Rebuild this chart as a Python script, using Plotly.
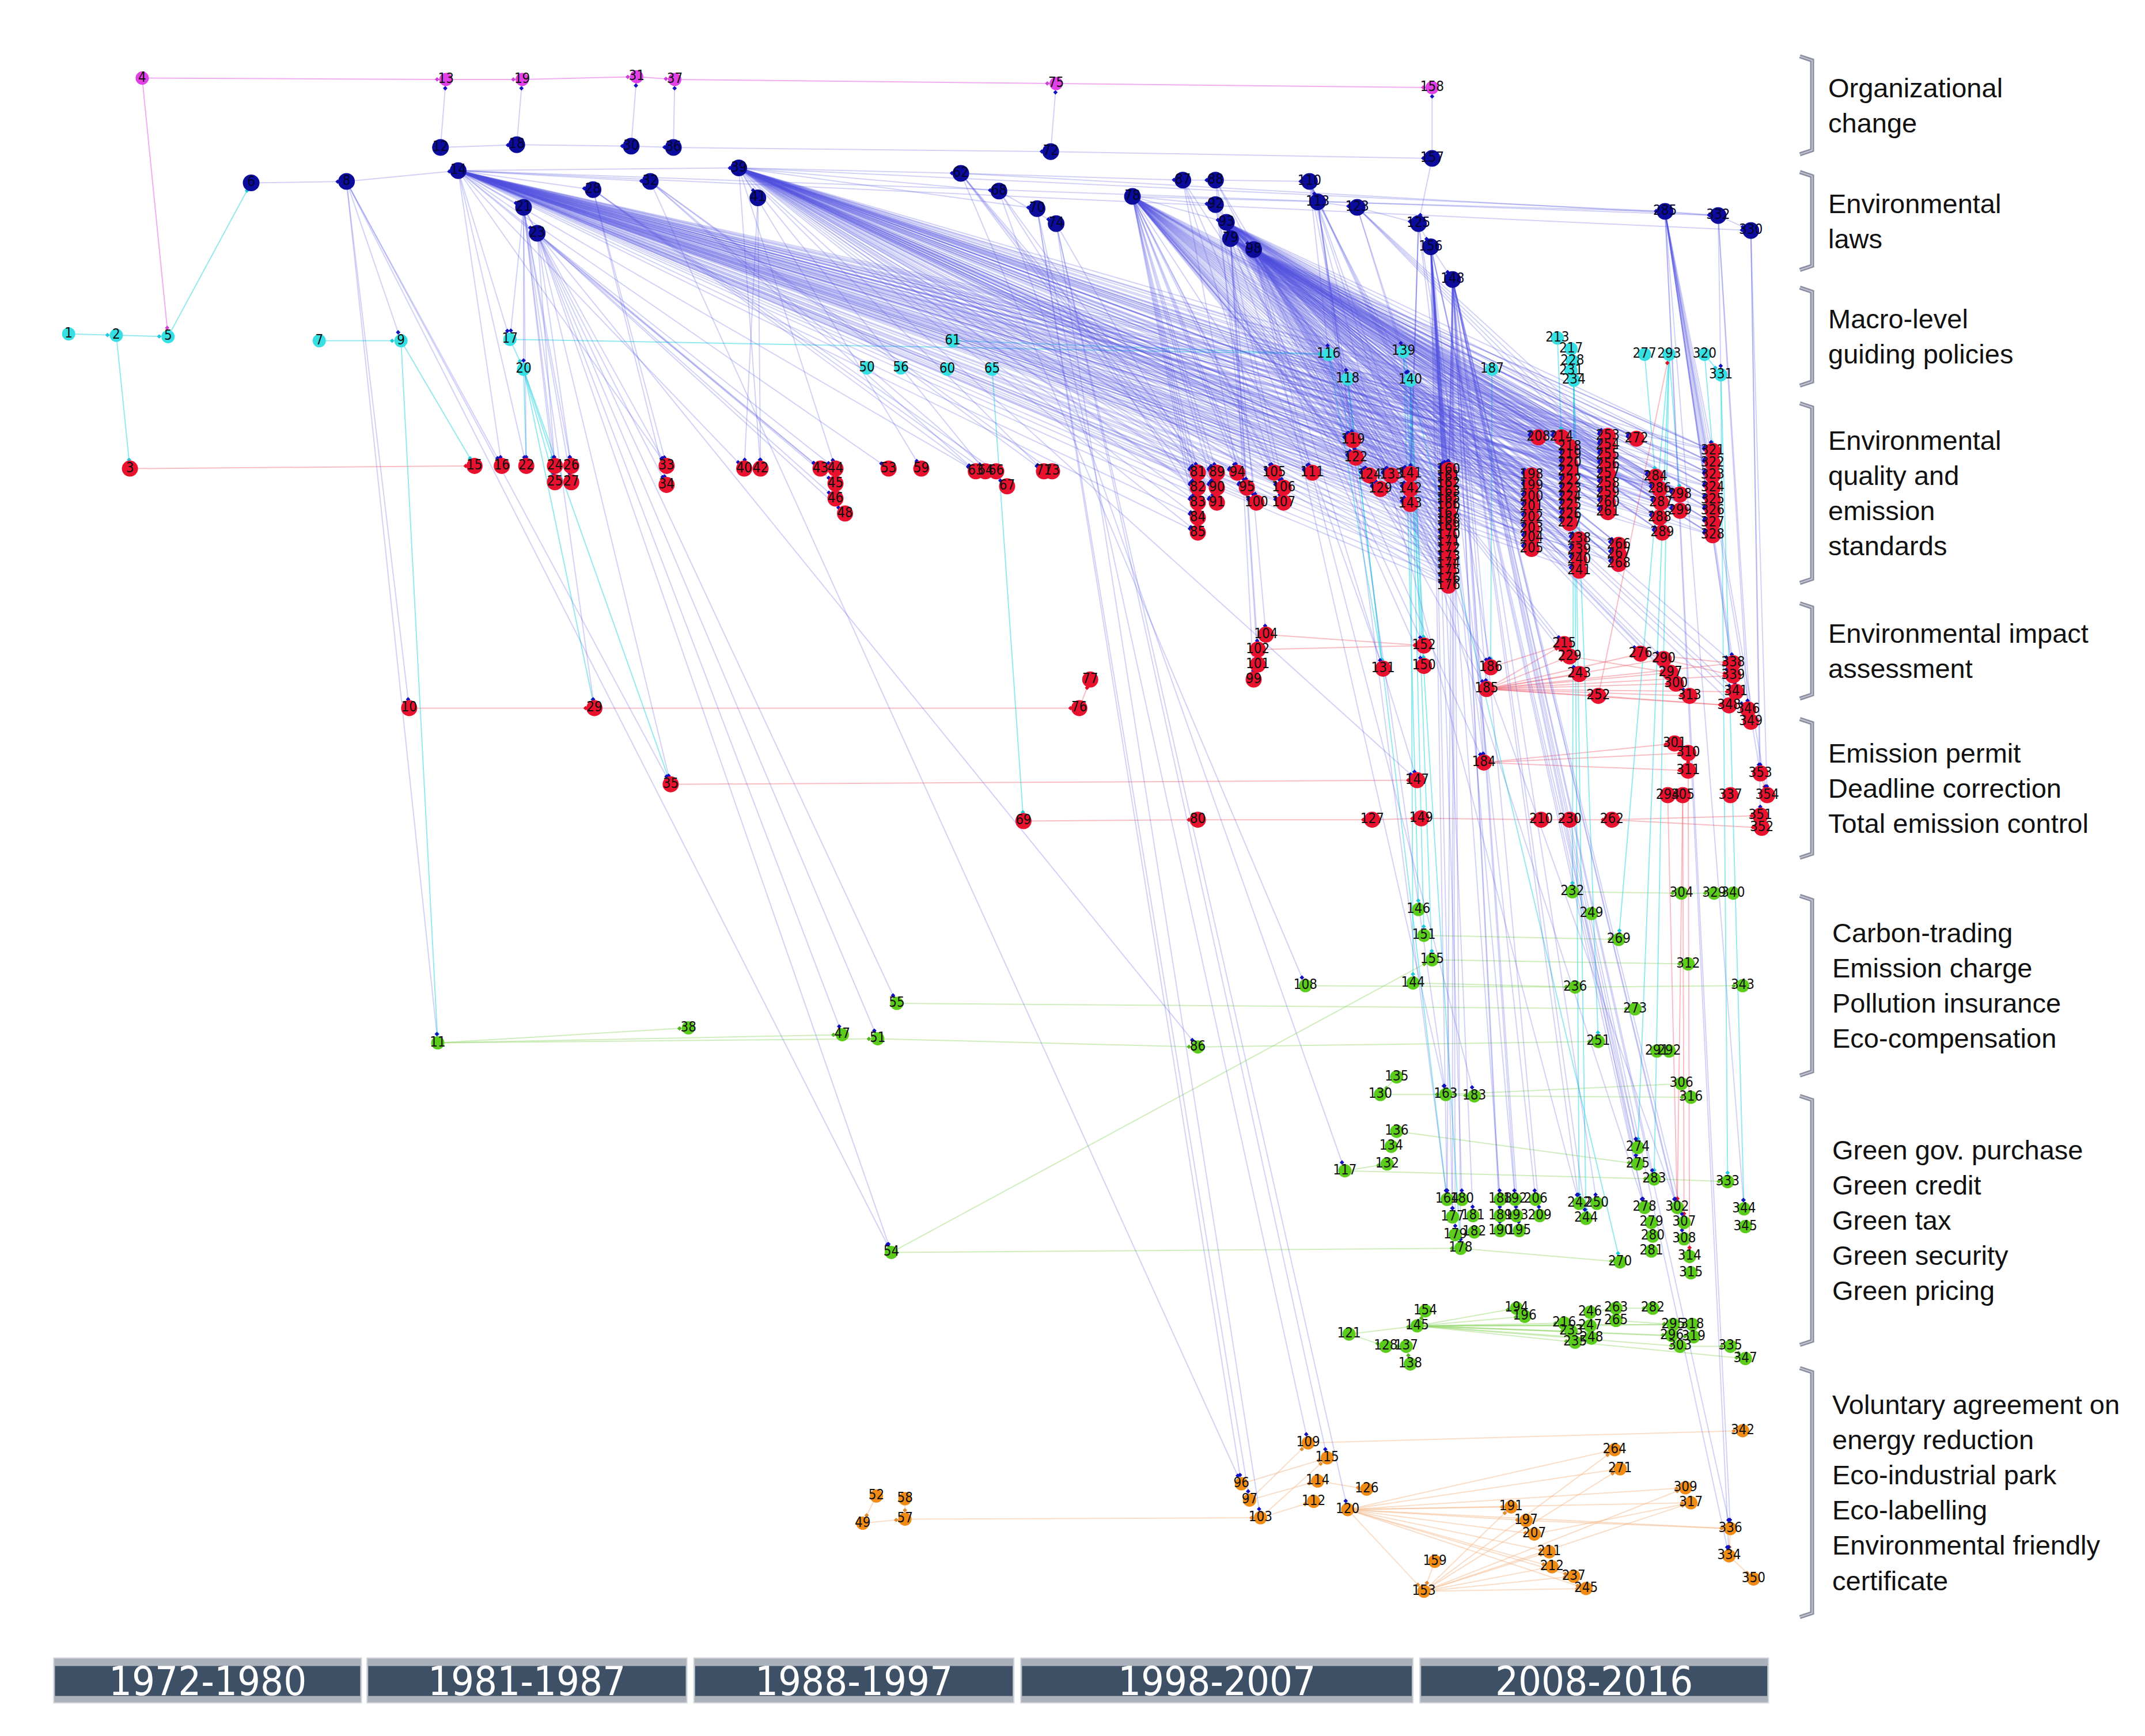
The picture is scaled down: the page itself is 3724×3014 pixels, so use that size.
import math
import plotly.graph_objects as go

# Policy network 1972-2016, node positions
# (x: 0-1568 across, y: 0-1269 downwards)

org_change = [("4", 101, 54), ("13", 324, 55), ("19", 380, 55), ("31", 464, 53),
              ("37", 492, 55), ("75", 772, 58), ("158", 1048, 61)]

env_laws = [("6", 181, 131), ("8", 251, 130), ("12", 320, 105), ("14", 333, 122),
            ("18", 376, 103), ("21", 381, 149), ("23", 391, 168), ("28", 432, 136),
            ("30", 460, 104), ("32", 474, 130), ("36", 491, 105), ("39", 539, 120),
            ("41", 553, 142), ("62", 702, 124), ("68", 730, 137), ("70", 758, 150),
            ("72", 768, 108), ("74", 772, 161), ("78", 828, 141), ("87", 865, 129),
            ("88", 889, 129), ("92", 889, 147), ("93", 897, 160), ("79", 900, 172),
            ("98", 917, 180), ("110", 958, 130), ("113", 964, 145), ("123", 993, 149),
            ("125", 1038, 161), ("157", 1048, 113), ("156", 1047, 178), ("148", 1063, 202),
            ("285", 1219, 152), ("332", 1258, 155), ("330", 1282, 166)]

macro_policies = [("1", 47, 242), ("2", 82, 243), ("5", 120, 244), ("7", 231, 247),
                  ("9", 291, 247), ("17", 371, 246), ("20", 381, 268), ("61", 696, 247),
                  ("50", 633, 267), ("56", 658, 267), ("60", 692, 268), ("65", 725, 268),
                  ("116", 972, 257), ("118", 986, 275), ("139", 1027, 255), ("140", 1032, 276),
                  ("187", 1092, 268), ("213", 1140, 245), ("217", 1150, 253), ("228", 1151, 262),
                  ("231", 1150, 269), ("234", 1152, 276), ("277", 1204, 257), ("293", 1222, 257),
                  ("320", 1248, 257), ("331", 1260, 272)]

quality_standards = [
    ("3", 92, 341), ("15", 345, 339), ("16", 365, 339), ("22", 383, 339), ("24", 404, 339),
    ("26", 416, 339), ("25", 404, 351), ("27", 416, 351), ("33", 486, 339), ("34", 486, 353),
    ("40", 543, 341), ("42", 555, 341), ("43", 599, 341), ("44", 610, 341), ("45", 610, 352),
    ("46", 610, 363), ("48", 617, 374), ("53", 649, 341), ("59", 673, 341), ("63", 713, 343),
    ("64", 720, 343), ("66", 728, 343), ("67", 736, 354), ("71", 763, 343), ("73", 769, 343),
    ("81", 876, 344), ("82", 876, 355), ("83", 876, 366), ("84", 876, 377), ("85", 876, 388),
    ("89", 890, 344), ("90", 890, 355), ("91", 890, 366), ("94", 905, 344), ("95", 912, 355),
    ("100", 919, 366), ("105", 932, 344), ("106", 939, 355), ("107", 939, 366), ("111", 960, 344),
    ("119", 990, 320), ("122", 992, 333), ("124", 1002, 346), ("133", 1018, 346), ("129", 1010, 356),
    ("141", 1032, 345), ("142", 1032, 356), ("143", 1032, 367),
    ("160", 1060, 342), ("161", 1060, 347), ("162", 1060, 352), ("163b", 1060, 358),
    ("165", 1060, 363), ("166", 1060, 368), ("167", 1060, 374), ("168", 1060, 379),
    ("169", 1060, 384), ("170", 1060, 390), ("171", 1060, 395), ("172", 1060, 400),
    ("173", 1060, 406), ("174", 1060, 411), ("175", 1060, 416), ("176", 1060, 422),
    ("176b", 1060, 427),
    ("198", 1121, 346), ("199", 1121, 354), ("200", 1121, 362), ("201", 1121, 369),
    ("202", 1121, 377), ("203", 1121, 385), ("204", 1121, 392), ("205", 1121, 400),
    ("208", 1126, 318), ("214", 1143, 318),
    ("218", 1149, 325), ("219", 1149, 331), ("220", 1149, 337), ("221", 1149, 343),
    ("222", 1149, 350), ("223", 1149, 356), ("224", 1149, 362), ("225", 1149, 368),
    ("226", 1149, 375), ("227", 1149, 381),
    ("238", 1156, 393), ("239", 1156, 401), ("240", 1156, 408), ("241", 1156, 416),
    ("253", 1177, 317), ("254", 1177, 324), ("255", 1177, 331), ("256", 1177, 338),
    ("257", 1177, 345), ("258", 1177, 352), ("259", 1177, 359), ("260", 1177, 366),
    ("261", 1177, 373),
    ("266", 1185, 397), ("267", 1185, 404), ("268", 1185, 411),
    ("272", 1198, 319), ("284", 1212, 347), ("286", 1215, 356), ("287", 1216, 366),
    ("288", 1215, 377), ("289", 1217, 388), ("298", 1230, 360), ("299", 1230, 372),
    ("321", 1254, 328), ("322", 1254, 337), ("323", 1254, 346), ("324", 1254, 355),
    ("325", 1254, 364), ("326", 1254, 372), ("327", 1254, 381), ("328", 1254, 390),
]

impact_assessment = [
    ("104", 926, 463), ("102", 920, 474), ("101", 920, 485), ("99", 917, 496),
    ("152", 1042, 471), ("131", 1012, 488), ("150", 1042, 486), ("186", 1091, 487),
    ("185", 1088, 503), ("215", 1145, 470), ("229", 1149, 479), ("243", 1156, 492),
    ("252", 1170, 508), ("276", 1201, 477), ("290", 1218, 481), ("297", 1223, 491),
    ("300", 1227, 499), ("313", 1237, 508), ("338", 1269, 484), ("339", 1269, 493),
    ("341", 1271, 505), ("348", 1266, 515), ("346", 1280, 518), ("349", 1282, 527),
    ("10", 297, 517), ("29", 433, 517), ("77", 797, 496), ("76", 789, 517),
]

emission_permit = [
    ("35", 489, 573), ("147", 1037, 570), ("184", 1086, 557), ("301", 1226, 543),
    ("310", 1236, 550), ("311", 1236, 563), ("294", 1221, 581), ("305", 1232, 581),
    ("337", 1267, 581), ("353", 1289, 565), ("354", 1294, 581), ("351", 1289, 596),
    ("352", 1290, 605), ("69", 748, 600), ("80", 876, 599), ("127", 1004, 599),
    ("149", 1040, 598), ("210", 1128, 599), ("230", 1149, 599), ("262", 1180, 599),
]

market_green = [
    ("11", 318, 763), ("38", 502, 752), ("47", 615, 757), ("51", 641, 760), ("55", 655, 734),
    ("86", 876, 766), ("54", 651, 917),
    ("232", 1151, 652), ("304", 1231, 653), ("329", 1255, 653), ("340", 1269, 653),
    ("146", 1038, 665), ("249", 1165, 668), ("151", 1042, 684), ("269", 1185, 687),
    ("155", 1048, 702), ("312", 1236, 705), ("108", 955, 721), ("144", 1034, 719),
    ("236", 1153, 722), ("343", 1276, 721), ("273", 1197, 738), ("251", 1170, 762),
    ("291", 1213, 769), ("292", 1222, 769), ("306", 1231, 793), ("316", 1238, 803),
    ("135", 1022, 788), ("130", 1010, 801), ("163", 1058, 801), ("183", 1079, 802),
    ("136", 1022, 828), ("134", 1018, 839), ("132", 1015, 852), ("117", 984, 857),
    ("274", 1199, 840), ("275", 1199, 852), ("283", 1211, 863), ("333", 1265, 865),
    ("164", 1059, 878), ("180", 1070, 878), ("188", 1098, 878), ("192", 1109, 878),
    ("206", 1124, 878), ("242", 1156, 881), ("250", 1169, 881), ("278", 1204, 884),
    ("302", 1228, 884), ("344", 1277, 885),
    ("177", 1063, 891), ("181", 1078, 890), ("189", 1098, 890), ("193", 1110, 890),
    ("209", 1127, 890), ("244", 1161, 892), ("279", 1209, 895), ("307", 1233, 895),
    ("345", 1278, 898),
    ("179", 1065, 904), ("182", 1079, 902), ("190", 1098, 901), ("195", 1112, 901),
    ("280", 1210, 905), ("308", 1233, 907),
    ("178", 1069, 914), ("281", 1209, 916), ("314", 1237, 920), ("270", 1186, 924),
    ("315", 1238, 932),
    ("154", 1043, 960), ("194", 1110, 958), ("196", 1116, 964), ("246", 1164, 961),
    ("263", 1183, 958), ("282", 1210, 958),
    ("145", 1037, 971), ("121", 987, 977), ("216", 1145, 969), ("233", 1150, 975),
    ("247", 1164, 971), ("265", 1183, 967), ("295", 1225, 970), ("318", 1239, 970),
    ("235", 1153, 983), ("248", 1165, 980), ("296", 1224, 978), ("319", 1240, 979),
    ("303", 1230, 986), ("335", 1267, 986),
    ("128", 1014, 986), ("137", 1029, 986), ("138", 1032, 999), ("347", 1278, 995),
]

voluntary = [
    ("109", 957, 1057), ("115", 971, 1068), ("342", 1276, 1048), ("264", 1182, 1062),
    ("271", 1186, 1076), ("96", 908, 1087), ("114", 964, 1085), ("126", 1000, 1091),
    ("97", 914, 1099), ("112", 961, 1100), ("309", 1234, 1090), ("317", 1238, 1101),
    ("103", 922, 1112), ("120", 986, 1106), ("191", 1106, 1104), ("197", 1117, 1114),
    ("207", 1123, 1124), ("336", 1267, 1120), ("211", 1134, 1137), ("334", 1266, 1140),
    ("159", 1050, 1144), ("212", 1136, 1148), ("237", 1152, 1155), ("350", 1284, 1157),
    ("245", 1161, 1164), ("153", 1042, 1166), ("52", 640, 1096), ("58", 661, 1098),
    ("49", 630, 1116), ("57", 661, 1113),
]

# groups of standards that the law hubs fan out to
quality_early = ["15", "16", "22", "24", "26", "25", "27", "33", "34", "40", "42", "43",
                 "44", "45", "46", "48", "53", "59", "63", "64", "66", "67", "71", "73"]
quality_1998 = ["81", "82", "83", "84", "85", "89", "90", "91", "94", "95", "100", "105",
                "106", "107", "111", "119", "122", "124", "129", "133", "141", "142", "143"]
quality_column = ["160", "161", "162", "163b", "165", "166", "167", "168", "169", "170",
                  "171", "172", "173", "174", "175", "176", "176b"]
quality_2008 = ["198", "199", "200", "201", "202", "203", "204", "205", "208", "214",
                "218", "219", "220", "221", "222", "223", "224", "225", "226", "227",
                "238", "239", "240", "241", "253", "254", "255", "256", "257", "258",
                "259", "260", "261", "266", "267", "268", "272", "284", "286", "287",
                "288", "289", "298", "299", "321", "322", "323", "324", "325", "326",
                "327", "328"]
impact_late = ["152", "150", "186", "185", "215", "229", "243", "276", "290", "297",
               "300", "313", "338", "339", "341", "346", "349"]

law_fans = {
    "6": ["8"],
    "8": ["14", "9", "10", "11", "16", "35", "54"],
    "12": ["18", "13"],
    "18": ["30", "19"],
    "30": ["36", "31"],
    "36": ["72", "37"],
    "72": ["157", "75"],
    "157": ["158", "125"],
    "14": ["39", "21", "23", "28", "32", "16", "17", "22", "33", "40", "43", "53", "63",
           "330", "332"] + quality_1998 + quality_column + quality_2008,
    "21": ["17", "20", "22", "24", "25", "26", "27", "29", "33", "34"],
    "23": ["24", "26", "43", "44", "45", "46", "48", "51", "54", "55", "86", "35", "47"],
    "28": ["33", "34", "63", "64", "66"],
    "32": ["63", "67", "71", "73", "96"],
    "39": ["41", "62", "68", "70", "285", "42", "44", "59", "64", "71", "147"]
          + quality_1998 + quality_column + quality_2008,
    "41": ["40", "42"],
    "62": ["87", "81", "82", "89", "90", "108", "332"],
    "68": ["74", "83", "90", "117"],
    "70": ["96", "97", "109"],
    "74": ["103", "115", "120", "91"],
    "78": ["92", "93", "285"] + quality_1998 + quality_column + quality_2008[:30],
    "87": ["88", "94", "105", "111", "119"],
    "88": ["110", "95", "106", "124", "133"],
    "92": ["100", "107", "129", "141"],
    "93": ["98", "79"] + quality_column + quality_2008[10:] + impact_late,
    "79": ["99", "101", "102", "104", "131"] + quality_2008[20:],
    "98": quality_column + quality_2008 + ["184", "147", "163", "183"],
    "110": ["113", "116", "118", "160", "161", "162", "242", "278", "302"],
    "113": ["123", "119", "122", "140", "163", "164"],
    "123": ["125", "139", "140", "253", "254", "255", "256"],
    "125": ["156", "141", "142", "143", "184", "186"],
    "156": ["148", "164", "180", "188", "192", "206", "177", "181", "274", "275", "278"]
           + quality_column,
    "148": ["160", "165", "170", "175", "164", "177", "179", "178", "189", "190", "193",
            "195", "209", "242", "244", "250", "274", "275", "278", "302", "334", "336",
            "184", "185", "283", "307", "308"],
    "285": ["332", "321", "322", "323", "324", "325", "326", "327", "328", "338", "339",
            "341", "353", "354", "336", "334", "344"],
    "332": ["330", "331", "346", "349"],
    "330": ["353", "354", "351"],
}

org_edges = [("4", "13"), ("13", "19"), ("19", "31"), ("31", "37"), ("37", "75"),
             ("75", "158"), ("4", "5")]

macro_edges = [("1", "2"), ("2", "5"), ("2", "3"), ("5", "6"), ("7", "9"), ("9", "11"),
               ("9", "15"), ("17", "116"), ("17", "20"), ("20", "22"), ("20", "24"),
               ("20", "25"), ("20", "29"), ("20", "35"), ("61", "116"), ("65", "69"),
               ("116", "119"), ("118", "122"), ("139", "140"), ("140", "141"), ("140", "150"),
               ("140", "152"), ("139", "146"), ("140", "151"), ("140", "155"), ("140", "144"),
               ("118", "131"), ("116", "131"), ("187", "186"), ("234", "232"), ("234", "242"),
               ("234", "244"), ("293", "298"), ("320", "331"), ("331", "344"), ("331", "333"),
               ("277", "284"), ("213", "214"), ("293", "274"), ("293", "283"), ("320", "321"),
               ("139", "178"), ("140", "270"), ("118", "164"), ("234", "251"), ("293", "269")]

standard_edges = [("3", "15"), ("10", "29"), ("29", "76"), ("76", "77"), ("35", "147"),
                  ("69", "80"), ("80", "127"), ("127", "149"), ("149", "210"), ("210", "230"),
                  ("230", "262"), ("262", "351"), ("262", "352"), ("104", "152"), ("102", "152"),
                  ("185", "215"), ("185", "229"), ("185", "243"), ("185", "252"), ("185", "276"),
                  ("185", "290"), ("185", "297"), ("185", "300"), ("185", "313"), ("185", "338"),
                  ("185", "339"), ("185", "341"), ("185", "348"), ("186", "215"), ("276", "338"),
                  ("290", "339"), ("252", "293"), ("184", "301"), ("184", "310"), ("184", "311"),
                  ("301", "310"), ("310", "311"), ("294", "302"), ("305", "302"), ("305", "307"),
                  ("353", "354"), ("252", "348"), ("229", "297"), ("311", "314")]

market_edges = [("11", "38"), ("11", "47"), ("11", "51"), ("51", "86"), ("86", "251"),
                ("55", "273"), ("54", "178"), ("54", "155"), ("130", "163"), ("163", "183"),
                ("183", "316"), ("117", "132"), ("117", "283"), ("136", "275"), ("144", "236"),
                ("236", "343"), ("151", "269"), ("155", "312"), ("232", "304"), ("304", "329"),
                ("329", "340"), ("121", "145"), ("145", "194"), ("145", "196"), ("145", "216"),
                ("145", "233"), ("145", "235"), ("145", "247"), ("145", "248"), ("145", "295"),
                ("145", "296"), ("145", "303"), ("145", "318"), ("145", "319"), ("121", "128"),
                ("128", "137"), ("137", "138"), ("154", "145"), ("283", "333"), ("178", "270"),
                ("335", "347"), ("303", "335"), ("265", "295"), ("246", "263"), ("108", "236"),
                ("306", "163"), ("135", "130"), ("263", "282"), ("235", "347")]

voluntary_edges = [("49", "57"), ("52", "49"), ("58", "57"), ("57", "103"), ("96", "115"),
                   ("97", "114"), ("103", "112"), ("97", "109"), ("109", "342"), ("114", "126"),
                   ("120", "191"), ("120", "197"), ("120", "207"), ("120", "211"), ("120", "212"),
                   ("120", "237"), ("120", "245"), ("120", "264"), ("120", "271"), ("120", "309"),
                   ("120", "317"), ("120", "336"), ("120", "153"), ("153", "211"), ("153", "212"),
                   ("153", "237"), ("153", "245"), ("153", "264"), ("153", "271"), ("153", "309"),
                   ("153", "317"), ("153", "191"), ("159", "153"), ("334", "350"), ("336", "334"),
                   ("197", "336"), ("207", "317"), ("103", "115")]

group_labels = ["Organizational<br>change",
                "Environmental<br>laws",
                "Macro-level<br>guiding policies",
                "Environmental<br>quality and<br>emission<br>standards",
                "Environmental impact<br>assessment",
                "Emission permit<br>Deadline correction<br>Total emission control",
                "Carbon-trading<br>Emission charge<br>Pollution insurance<br>Eco-compensation",
                "Green gov. purchase<br>Green credit<br>Green tax<br>Green security<br>Green pricing",
                "Voluntary agreement on<br>energy reduction<br>Eco-industrial park<br>"
                "Eco-labelling<br>Environmental friendly<br>certificate"]
group_spans = [(38, 110), (123, 195), (208, 280), (293, 425), (440, 510), (525, 627),
               (655, 787), (802, 985), (1002, 1185)]

periods = ["1972-1980", "1981-1987", "1988-1997", "1998-2007", "2008-2016"]
period_spans = [(36, 262), (266, 501), (506, 741), (746, 1034), (1039, 1295)]

# ---------------------------------------------------------------------------
pos = {}
for group in [org_change, env_laws, macro_policies, quality_standards,
              impact_assessment, emission_permit, market_green, voluntary]:
    for label, x, y in group:
        pos[label] = (x, y)

law_edges = [(hub, t) for hub, targets in law_fans.items() for t in targets]

CONDENSED = "Liberation Sans Narrow, DejaVu Sans Condensed, Liberation Sans, sans-serif"


def segments(pairs):
    xs, ys = [], []
    for a, b in pairs:
        (x0, y0), (x1, y1) = pos[a], pos[b]
        xs += [x0, x1, None]
        ys += [y0, y1, None]
    return xs, ys


def arrow_points(pairs, back=6.5):
    xs, ys = [], []
    for a, b in pairs:
        (x0, y0), (x1, y1) = pos[a], pos[b]
        d = math.hypot(x1 - x0, y1 - y0)
        if d < 1:
            continue
        xs.append(x1 - (x1 - x0) / d * back)
        ys.append(y1 - (y1 - y0) / d * back)
    return xs, ys


fig = go.Figure()

edge_styles = [
    (voluntary_edges, "rgba(244,180,130,0.45)", "#e08a30"),
    (market_edges, "rgba(150,215,110,0.45)", "#55b520"),
    (standard_edges, "rgba(240,110,125,0.45)", "#e0102a"),
    (macro_edges, "rgba(60,215,230,0.55)", "#20c8d8"),
    (org_edges, "rgba(230,120,230,0.6)", "#d040d8"),
    (law_edges, "rgba(80,80,225,0.26)", "#1010c0"),
]
for pairs, color, _ in edge_styles:
    ex, ey = segments(pairs)
    fig.add_trace(go.Scatter(x=ex, y=ey, mode="lines", line=dict(color=color, width=2),
                             hoverinfo="skip", showlegend=False))
for pairs, _, tip in edge_styles:
    ax, ay = arrow_points(pairs)
    fig.add_trace(go.Scatter(x=ax, y=ay, mode="markers",
                             marker=dict(color=tip, size=6, symbol="diamond"),
                             hoverinfo="skip", showlegend=False))

node_styles = [
    (org_change, "#e040e6", 23, "#111111"),
    (env_laws, "#0c0c9c", 29, "#05052e"),
    (macro_policies, "#36dfe2", 23, "#111111"),
    (quality_standards, "#e8122e", 28, "#111111"),
    (impact_assessment, "#e8122e", 28, "#111111"),
    (emission_permit, "#e8122e", 28, "#111111"),
    (market_green, "#5ccc1c", 23, "#111111"),
    (voluntary, "#f08c16", 23, "#111111"),
]
for group, color, size, text_color in node_styles:
    fig.add_trace(go.Scatter(
        x=[n[1] for n in group], y=[n[2] for n in group],
        text=[n[0].rstrip("b") for n in group],
        mode="markers+text", textposition="middle center",
        textfont=dict(family=CONDENSED, size=24, color=text_color),
        marker=dict(color=color, size=size, line=dict(width=0)),
        hoverinfo="text", showlegend=False))

shapes = []
annotations = []
for i, ((y0, y1), text) in enumerate(zip(group_spans, group_labels)):
    path = f"M 1318,{y0} L 1327,{y0 + 3} L 1327,{y1 - 3} L 1318,{y1}"
    shapes.append(dict(type="path", path=path, xref="x", yref="y",
                       line=dict(color="#8a8ea0", width=7)))
    shapes.append(dict(type="path", path=path, xref="x", yref="y",
                       line=dict(color="#c4c7d2", width=2)))
    annotations.append(dict(x=1338 if i < 6 else 1341, y=(y0 + y1) / 2, xref="x", yref="y",
                            text=text, showarrow=False, xanchor="left", yanchor="middle",
                            align="left",
                            font=dict(family="Liberation Sans, Arial, sans-serif",
                                      size=47, color="#111111")))

for (x0, x1), label in zip(period_spans, periods):
    shapes.append(dict(type="rect", x0=x0, x1=x1, y0=1215, y1=1248, xref="x", yref="y",
                       fillcolor="#aab1ba", line=dict(color="#d5d9de", width=2), layer="above"))
    shapes.append(dict(type="rect", x0=x0 + 1, x1=x1 - 1, y0=1221, y1=1243, xref="x", yref="y",
                       fillcolor="#3e5065", line=dict(width=0), layer="above"))
    annotations.append(dict(x=(x0 + x1) / 2, y=1232, xref="x", yref="y", text=label,
                            showarrow=False, xanchor="center", yanchor="middle",
                            font=dict(family=CONDENSED, size=70, color="white")))

fig.update_layout(
    width=3708, height=2998,
    margin=dict(l=0, r=0, t=0, b=0),
    paper_bgcolor="white", plot_bgcolor="white",
    xaxis=dict(range=[0, 1568], visible=False, fixedrange=True),
    yaxis=dict(range=[1269, 0], visible=False, fixedrange=True),
    shapes=shapes, annotations=annotations,
    showlegend=False,
)

fig.write_html("out.html")
